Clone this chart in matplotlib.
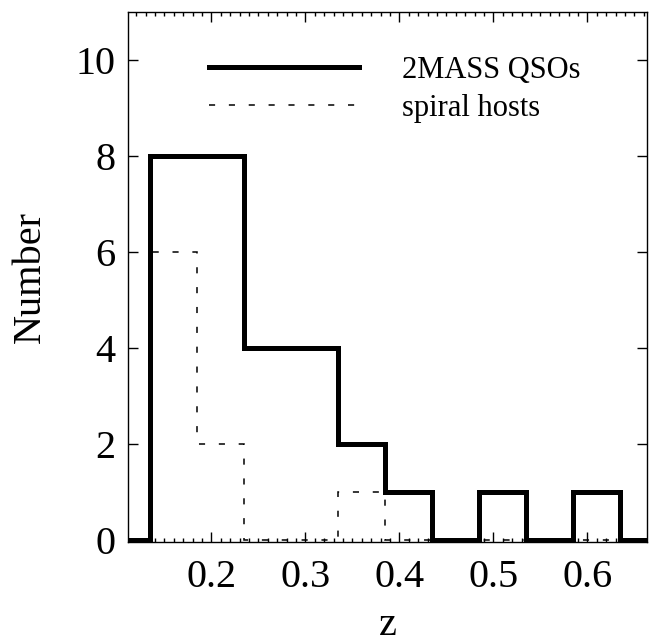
import numpy as np
import matplotlib
matplotlib.use("Agg")
import matplotlib.pyplot as plt

# Histogram bins (redshift) and counts
bin_edges = [0.085, 0.135, 0.185, 0.235, 0.285, 0.335, 0.385, 0.435,
             0.485, 0.535, 0.585, 0.635, 0.685]
qso_counts = [0, 8, 8, 4, 4, 2, 1, 0, 1, 0, 1, 0]
spiral_counts = [0, 6, 2, 0, 0, 1, 0, 0, 0, 0, 0, 0]

x_ticks = [0.2, 0.3, 0.4, 0.5, 0.6]
y_ticks = [0, 2, 4, 6, 8, 10]

plt.rcParams["font.family"] = ["Liberation Serif", "DejaVu Serif"]

fig = plt.figure(figsize=(6.55, 6.43), dpi=100)
ax = fig.add_axes([0.195, 0.157, 0.793, 0.824])

ax.stairs(qso_counts, bin_edges, baseline=None, color="black", lw=3.6,
          label="2MASS QSOs")
ax.stairs(spiral_counts, bin_edges, baseline=None, color="black", lw=1.1,
          linestyle=(0, (4, 9)), label="spiral hosts")

ax.set_xlim(0.111, 0.6635)
ax.set_ylim(-0.05, 11)

ax.set_xticks(x_ticks)
ax.set_xticklabels([f"{v:.1f}" for v in x_ticks])
ax.set_xticks(np.arange(0.12, 0.665, 0.01), minor=True)
ax.set_yticks(y_ticks)

ax.tick_params(which="both", direction="in", top=True, right=True,
               labelsize=29, width=1.0)
ax.tick_params(which="major", length=7)
ax.tick_params(which="minor", length=3)
ax.tick_params(axis="y", pad=9)
ax.tick_params(axis="x", pad=12)

for s in ax.spines.values():
    s.set_linewidth(1.0)

ax.set_xlabel("z", fontsize=29, labelpad=8)
ax.set_ylabel("Number", fontsize=29, labelpad=19)

ax.legend(loc="upper right", frameon=False, fontsize=22, handlelength=4.9,
          handletextpad=1.4, labelspacing=0.3, borderaxespad=0.6,
          bbox_to_anchor=(0.93, 0.975))

fig.savefig("out.png", dpi=100)
